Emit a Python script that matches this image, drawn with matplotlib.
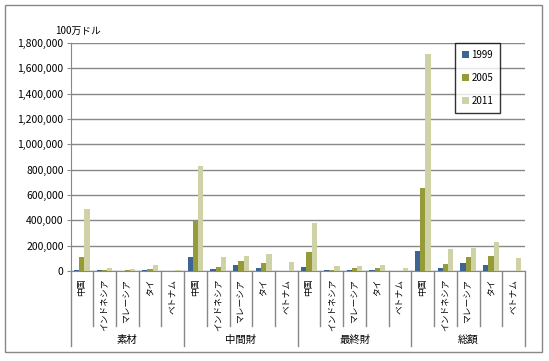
import numpy as np
import matplotlib.pyplot as plt
from matplotlib.patches import Rectangle
from matplotlib.lines import Line2D

plt.rcParams['font.family'] = ['Noto Sans CJK JP', 'DejaVu Sans']

groups = ['素材', '中間財', '最終財', '総額']
countries = ['中国', 'インドネシア', 'マレーシア', 'タイ', 'ベトナム']
years = ['1999', '2005', '2011']

# 100万ドル, 順番: 素材, 中間財, 最終財, 総額 × 各国
v1999 = [10000, 5000, 2000, 5000, 0,
         108000, 13000, 45000, 26000, 0,
         34000, 5000, 10000, 8000, 0,
         160000, 21000, 66000, 50000, 0]
v2005 = [108000, 5000, 5000, 18000, 0,
         395000, 34000, 79000, 66000, 0,
         152000, 10000, 21000, 26000, 0,
         655000, 58000, 110000, 118000, 0]
v2011 = [489000, 20000, 15000, 45000, 5000,
         829000, 110000, 118000, 134000, 74000,
         379000, 42000, 42000, 47000, 21000,
         1710000, 176000, 184000, 229000, 103000]
colors = ['#3C6495', '#969B3A', '#CFD2A4']

fig = plt.figure(figsize=(5.49, 3.61), dpi=100)
fig.patches.append(Rectangle((5 / 549, 1 - 352 / 361), 537 / 549, 347 / 361,
                             transform=fig.transFigure, fill=False,
                             edgecolor='#888888', lw=1))
ax = fig.add_axes([70.5 / 549, 1 - 271 / 361, 454.5 / 549, 228 / 361])

n = len(v1999)
x = np.arange(n)
w = 0.23
for i, (vals, c, lab) in enumerate(zip([v1999, v2005, v2011], colors, years)):
    ax.bar(x + (i - 1) * w, vals, w, color=c, label=lab, zorder=3)

ax.set_xlim(-0.5, n - 0.5)
ax.set_ylim(0, 1800000)
ax.set_yticks(np.arange(0, 1800001, 200000))
ax.set_yticklabels([f'{v:,}' for v in range(0, 1800001, 200000)], fontsize=7.5)
ax.yaxis.grid(True, color='#888888', lw=1, zorder=0)
ax.tick_params(axis='y', length=3, color='#888888', pad=2)
ax.set_xticks([])
for s in ['top', 'right']:
    ax.spines[s].set_visible(False)
ax.spines['left'].set_color('#888888')
ax.spines['bottom'].set_color('#888888')

# category labels and separators
trans = ax.get_xaxis_transform()
for k in range(n):
    ax.text(k, -0.035, countries[k % 5], rotation=90, ha='center', va='top',
            fontsize=6.3, transform=trans)
for k in range(n + 1):
    long = (k % 5 == 0)
    y1 = -75 / 228 if long else -55 / 228
    ax.add_line(Line2D([k - 0.5, k - 0.5], [0, y1], transform=trans,
                       color='#888888', lw=1, clip_on=False))
for g, name in enumerate(groups):
    ax.text(g * 5 + 2, -69 / 228, name, ha='center', va='center',
            fontsize=7.5, transform=trans)

fig.text(55 / 549, 1 - 31 / 361, '100万ドル', fontsize=7, va='center')

leg = ax.legend(loc='upper left', bbox_to_anchor=(455 / 549, 1 - 43 / 361),
                bbox_transform=fig.transFigure, fontsize=7, frameon=True,
                fancybox=False, edgecolor='black', handlelength=0.7,
                handleheight=0.7, labelspacing=1.35, borderpad=0.7,
                handletextpad=0.3, borderaxespad=0)
leg.get_frame().set_linewidth(1)

fig.savefig('out.png', dpi=100)
